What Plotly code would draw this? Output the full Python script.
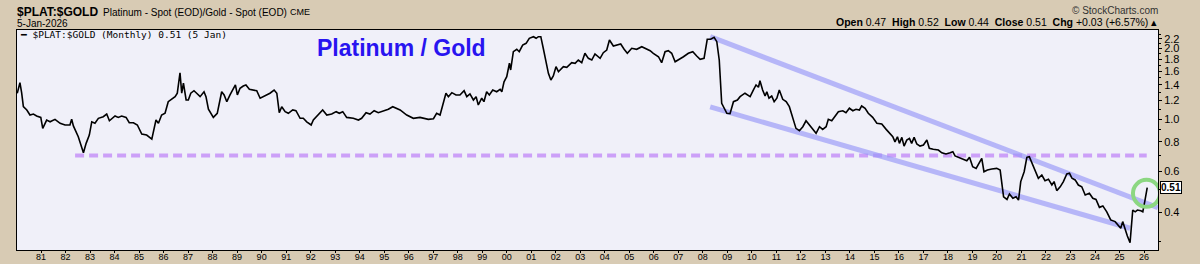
import math
import plotly.graph_objects as go

# ---------------- data ----------------
years = [
    1980.03, 1980.14, 1980.21, 1980.28, 1980.42, 1980.55, 1980.69, 1980.82, 1980.99, 1981.07,
    1981.23, 1981.37, 1981.57, 1981.78, 1981.98, 1982.18, 1982.25, 1982.32, 1982.52, 1982.73,
    1982.84, 1982.97, 1983.07, 1983.20, 1983.34, 1983.54, 1983.68, 1983.79, 1984.02, 1984.15,
    1984.29, 1984.47, 1984.60, 1984.77, 1984.93, 1985.11, 1985.31, 1985.52, 1985.69, 1985.79,
    1985.92, 1986.06, 1986.19, 1986.33, 1986.47, 1986.56, 1986.67, 1986.74, 1986.81, 1986.92,
    1987.01, 1987.11, 1987.24, 1987.35, 1987.49, 1987.65, 1987.73, 1987.83, 1988.03, 1988.19,
    1988.27, 1988.37, 1988.47, 1988.58, 1988.71, 1988.85, 1988.93, 1989.01, 1989.12, 1989.25,
    1989.36, 1989.50, 1989.66, 1989.80, 1989.94, 1990.14, 1990.34, 1990.51, 1990.62, 1990.72,
    1990.82, 1990.96, 1991.09, 1991.27, 1991.40, 1991.57,
    1991.70, 1991.84, 1992.02, 1992.11, 1992.31, 1992.49, 1992.66, 1992.86, 1993.04, 1993.17,
    1993.31, 1993.47, 1993.74, 1993.95, 1994.08, 1994.26, 1994.42, 1994.59, 1994.76, 1994.97,
    1995.17, 1995.35, 1995.51, 1995.65, 1995.92, 1996.19, 1996.46, 1996.63, 1996.80, 1997.01,
    1997.14, 1997.28, 1997.39, 1997.52, 1997.62, 1997.76, 1997.93, 1998.09, 1998.26, 1998.37,
    1998.50, 1998.64, 1998.75, 1998.84, 1998.98, 1999.07, 1999.18, 1999.29, 1999.43, 1999.59,
    1999.73, 1999.80, 1999.89, 2000.00, 2000.11, 2000.16, 2000.27, 2000.41, 2000.51, 2000.65,
    2000.79, 2000.92, 2001.09, 2001.20, 2001.29, 2001.39, 2001.49, 2001.60, 2001.70, 2001.80,
    2001.90, 2002.01, 2002.11, 2002.31, 2002.45, 2002.65, 2002.79, 2002.92, 2003.06, 2003.19,
    2003.33, 2003.47, 2003.60, 2003.81,
    2003.94, 2004.08, 2004.19, 2004.35, 2004.49, 2004.65, 2004.79, 2004.92, 2005.10, 2005.30,
    2005.51, 2005.64, 2005.85, 2005.98, 2006.19, 2006.32, 2006.46, 2006.59, 2006.73, 2006.87,
    2007.00, 2007.21, 2007.41, 2007.59, 2007.75, 2007.89, 2008.05, 2008.18, 2008.32, 2008.46,
    2008.57, 2008.67, 2008.77, 2008.87, 2008.98, 2009.11, 2009.25, 2009.41, 2009.52, 2009.72,
    2009.93,
    2010.06, 2010.17, 2010.27, 2010.33, 2010.44, 2010.54, 2010.61, 2010.70, 2010.81, 2010.91,
    2011.02, 2011.12, 2011.26, 2011.40, 2011.53, 2011.67, 2011.80, 2011.94, 2012.08, 2012.21,
    2012.31, 2012.44, 2012.62, 2012.76, 2012.89, 2013.03, 2013.12, 2013.26, 2013.39, 2013.53,
    2013.71, 2013.84, 2013.98, 2014.12, 2014.25, 2014.39, 2014.48, 2014.62, 2014.75, 2014.93,
    2015.10, 2015.30, 2015.48, 2015.64, 2015.75, 2015.84, 2015.94, 2016.02, 2016.12, 2016.21,
    2016.32, 2016.43, 2016.52, 2016.62, 2016.73, 2016.86, 2017.00, 2017.14, 2017.24, 2017.40,
    2017.61, 2017.75, 2017.92, 2018.09,
    2018.20, 2018.29, 2018.50, 2018.63, 2018.77, 2018.88, 2019.01, 2019.15, 2019.31, 2019.38,
    2019.47, 2019.61, 2019.79, 2019.99, 2020.13, 2020.27, 2020.41, 2020.51, 2020.65, 2020.78,
    2020.88, 2020.97, 2021.11, 2021.22, 2021.32, 2021.42, 2021.55, 2021.69, 2021.83, 2021.96,
    2022.10, 2022.24, 2022.33, 2022.44, 2022.58, 2022.71, 2022.85, 2022.96, 2023.06, 2023.19,
    2023.32, 2023.46, 2023.60, 2023.77, 2023.91, 2024.04, 2024.18, 2024.32, 2024.48, 2024.64,
    2024.82, 2024.96, 2025.05, 2025.13, 2025.23, 2025.32, 2025.43, 2025.54, 2025.64, 2025.73,
    2025.87, 2025.95, 2026.04, 2026.13,
]

ratio = [
    1.290, 1.430, 1.293, 1.130, 1.094, 1.041, 1.051, 1.031, 1.017, 0.913,
    0.991, 0.974, 0.998, 0.960, 0.944, 0.944, 0.998, 0.935, 0.841, 0.718,
    0.788, 0.855, 0.974, 0.960, 1.008, 1.024, 1.051, 0.984, 1.031, 1.017,
    1.031, 1.017, 0.965, 0.965, 0.944, 0.864, 0.855, 0.822, 0.991, 0.960,
    1.041, 1.059, 1.187, 1.215, 1.247, 1.290, 1.578, 1.290, 1.423, 1.207,
    1.207, 1.290, 1.322, 1.290, 1.247, 1.309, 1.247, 1.102, 1.017, 1.059,
    1.169, 1.309, 1.268, 1.187, 1.268, 1.354, 1.399, 1.268, 1.354, 1.385,
    1.399, 1.340, 1.331, 1.322, 1.228, 1.255, 1.290, 1.331, 1.290, 1.065,
    1.130, 1.076, 1.059, 1.094, 1.086, 1.008,
    1.008, 0.974, 0.944, 0.991, 1.041, 1.094, 1.041, 1.051, 1.076, 1.059,
    1.076, 1.017, 1.008, 0.991, 1.008, 1.065, 1.051, 1.086, 1.065, 1.086,
    1.102, 1.130, 1.112, 1.094, 1.041, 1.008, 1.017, 1.008, 0.998, 1.004,
    1.059, 1.041, 1.149, 1.290, 1.247, 1.297, 1.268, 1.268, 1.322, 1.247,
    1.281, 1.207, 1.247, 1.149, 1.228, 1.187, 1.309, 1.268, 1.331, 1.309,
    1.340, 1.309, 1.444, 1.517, 1.732, 1.621, 1.940, 1.987, 1.940, 2.072,
    2.107, 2.214, 2.249, 2.214, 2.249, 2.249, 2.007, 1.732, 1.569, 1.469,
    1.528, 1.675, 1.594, 1.675, 1.665, 1.741, 1.731, 1.788, 1.741, 1.910,
    1.818, 1.788, 1.897, 1.818,
    1.921, 1.973, 2.177, 2.052, 2.072, 2.093, 1.987, 1.910, 2.007, 1.987,
    2.037, 2.007, 1.960, 1.910, 1.847, 1.741, 1.940, 1.960, 1.910, 1.758,
    1.788, 1.847, 1.910, 1.940, 1.859, 1.800, 1.818, 2.192, 2.192, 2.236,
    2.141, 1.788, 1.169, 1.113, 1.059, 1.055, 1.187, 1.207, 1.247, 1.290,
    1.247,
    1.331, 1.399, 1.368, 1.459, 1.331, 1.255, 1.309, 1.228, 1.255, 1.187,
    1.228, 1.331, 1.215, 1.187, 1.130, 1.008, 0.913, 0.892, 0.928, 0.984,
    0.953, 0.913, 0.870, 0.928, 0.904, 0.928, 0.998, 0.984, 1.024, 1.076,
    1.086, 1.065, 1.113, 1.086, 1.102, 1.094, 1.138, 1.113, 1.059, 1.017,
    0.960, 0.953, 0.904, 0.870, 0.841, 0.800, 0.841, 0.788, 0.836, 0.767,
    0.814, 0.828, 0.788, 0.836, 0.783, 0.767, 0.775, 0.814, 0.751, 0.743,
    0.738, 0.718, 0.710, 0.718,
    0.726, 0.696, 0.680, 0.674, 0.664, 0.687, 0.626, 0.616, 0.664, 0.680,
    0.596, 0.606, 0.612, 0.616, 0.606, 0.466, 0.454, 0.479, 0.459, 0.466,
    0.451, 0.541, 0.596, 0.687, 0.691, 0.651, 0.606, 0.559, 0.577, 0.546,
    0.554, 0.523, 0.541, 0.495, 0.514, 0.541, 0.583, 0.587, 0.559, 0.550,
    0.523, 0.514, 0.474, 0.482, 0.459, 0.454, 0.420, 0.426, 0.402, 0.371,
    0.365, 0.353, 0.342, 0.365, 0.336, 0.317, 0.297, 0.409, 0.402, 0.409,
    0.406, 0.402, 0.451, 0.510,
]
assert len(years) == len(ratio)

tick_years = list(range(1981, 2027))
tick_text = [f"{y % 100:02d}" for y in tick_years]
y_ticks = [0.4, 0.6, 0.8, 1.0, 1.2, 1.4, 1.6, 1.8, 2.0, 2.2]
y_tick_text = [f"{v:.1f}" for v in y_ticks]
y_minor = [0.3, 0.5, 0.7, 0.9, 1.1, 1.3, 1.5, 1.7, 1.9, 2.1, 2.3]

support_years = [1982.39, 2026.11]
support_level = [0.70, 0.70]
upper_years = [2008.30, 2026.57]
upper_vals = [2.249, 0.419]
lower_years = [2008.30, 2025.43]
lower_vals = [1.127, 0.342]
highlight_year = [2026.10]
highlight_val = [0.482]
last_value = 0.51

x_range = [1980.02, 2026.57]
y_range = [0.2761, 2.402]

TAN = "rgb(216,203,180)"
PLOT_BG = "rgb(240,240,249)"
GREEN = "rgb(140,215,130)"

fig = go.Figure()
fig.add_trace(go.Scatter(x=support_years, y=support_level, mode="lines",
                         line=dict(color="rgb(204,160,248)", width=4, dash="9px,5px"),
                         hoverinfo="skip"))
fig.add_trace(go.Scatter(x=upper_years, y=upper_vals, mode="lines",
                         line=dict(color="rgba(150,150,248,0.65)", width=5), hoverinfo="skip"))
fig.add_trace(go.Scatter(x=lower_years, y=lower_vals, mode="lines",
                         line=dict(color="rgba(150,150,248,0.65)", width=5), hoverinfo="skip"))
fig.add_trace(go.Scatter(x=years, y=ratio, mode="lines",
                         line=dict(color="black", width=1.6), name="$PLAT:$GOLD"))
fig.add_trace(go.Scatter(x=highlight_year, y=highlight_val, mode="markers",
                         marker=dict(symbol="circle-open", size=27, color=GREEN,
                                     line=dict(color=GREEN, width=4)),
                         hoverinfo="skip"))

fig.update_layout(
    width=1200, height=264,
    margin=dict(l=17, r=42, t=30, b=14, autoexpand=False),
    paper_bgcolor=TAN, plot_bgcolor=PLOT_BG,
    showlegend=False,
    font=dict(family="Liberation Sans, Arial, sans-serif", color="black"),
)
fig.update_xaxes(range=x_range, tickvals=tick_years, ticktext=tick_text,
                 ticks="outside", ticklen=2, tickcolor="black", automargin=False,
                 ticklabelstandoff=-4,
                 showgrid=False, zeroline=False, showline=True, linecolor="black",
                 linewidth=1, mirror=True, tickfont=dict(size=9))
fig.update_yaxes(type="log", range=[math.log10(y_range[0]), math.log10(y_range[1])],
                 side="right", tickvals=y_ticks, ticktext=y_tick_text, automargin=False,
                 ticks="outside", ticklen=3, tickcolor="black",
                 showgrid=False, zeroline=False, showline=True, linecolor="black",
                 linewidth=1, mirror=True, tickfont=dict(size=11),
                 minor=dict(tickvals=y_minor, ticks="outside", ticklen=2, tickcolor="black"))

L, R, T, B = 17, 1158, 30, 250


def px(x):
    return (x - L) / (R - L)


def py(y):
    return (B - y) / (B - T)


ann = [
    dict(text="<b>$PLAT:$GOLD</b>", x=px(15), y=py(12), xanchor="left", yanchor="middle",
         font=dict(size=12)),
    dict(text="Platinum - Spot (EOD)/Gold - Spot (EOD)", x=px(101), y=py(12.5),
         xanchor="left", yanchor="middle", font=dict(size=10)),
    dict(text="CME", x=px(288), y=py(12.5), xanchor="left", yanchor="middle",
         font=dict(size=9)),
    dict(text="5-Jan-2026", x=px(15), y=py(24), xanchor="left", yanchor="middle",
         font=dict(size=10)),
    dict(text="© StockCharts.com", x=px(1160), y=py(10), xanchor="right", yanchor="middle",
         font=dict(size=10, color="rgb(50,50,50)")),
    dict(text="<b>Open</b> 0.47  <b>High</b> 0.52  <b>Low</b> 0.44  <b>Close</b> 0.51  "
              "<b>Chg</b> +0.03 (+6.57%) ▴",
         x=px(1159), y=py(22), xanchor="right", yanchor="middle", font=dict(size=10.5)),
    dict(text="━ $PLAT:$GOLD (Monthly) 0.51 (5 Jan)", x=px(18), y=py(35),
         xanchor="left", yanchor="middle",
         font=dict(size=9.5, family="DejaVu Sans Mono")),
    dict(text="<b>Platinum / Gold</b>", x=px(401), y=py(48), xanchor="center",
         yanchor="middle", font=dict(size=23, color="rgb(40,20,240)")),
]
for a in ann:
    a.update(xref="paper", yref="paper", showarrow=False)
    fig.add_annotation(**a)

fig.add_annotation(text="<b>0.51</b>", xref="paper", yref="y", x=1.0, y=math.log10(last_value),
                   xanchor="left", yanchor="middle", showarrow=False, xshift=2,
                   bgcolor="white", bordercolor="black", borderwidth=1, borderpad=0,
                   font=dict(size=10))

fig.write_html("out.html")
